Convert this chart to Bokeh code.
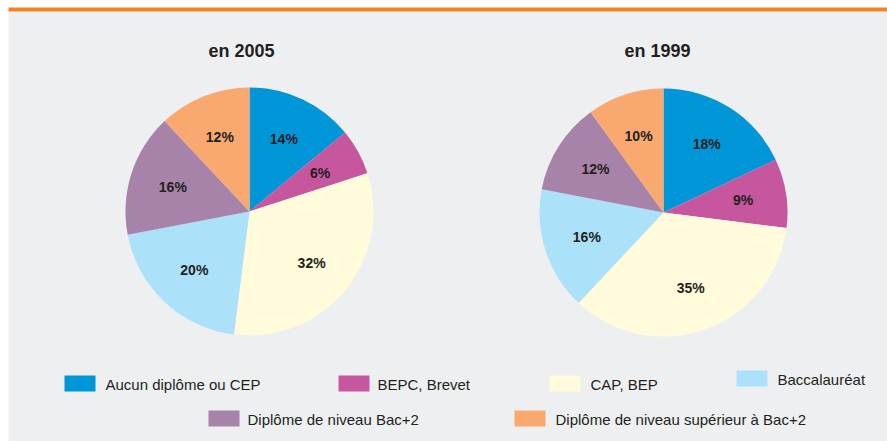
from math import pi, sin, cos
import numpy as np
from bokeh.plotting import figure
from bokeh.models import Range1d, ColumnDataSource
from bokeh.core.properties import value
from bokeh.embed import file_html
from bokeh.resources import INLINE

# ---- data ----
categories = ["Aucun diplôme ou CEP", "BEPC, Brevet", "CAP, BEP", "Baccalauréat",
              "Diplôme de niveau Bac+2", "Diplôme de niveau supérieur à Bac+2"]
colors = ["#0096d8", "#c6569e", "#fffbdb", "#abe1f9", "#a783aa", "#f9a86f"]
values_2005 = [14, 6, 32, 20, 16, 12]
values_1999 = [18, 9, 35, 16, 12, 10]
titles = ["en 2005", "en 1999"]

W, H = 887, 441
TXT = "#231f20"
FONT = "Liberation Sans"

p = figure(width=W, height=H, x_range=Range1d(0, W), y_range=Range1d(0, H),
           output_backend="svg", toolbar_location=None, min_border=0)
p.axis.visible = False
p.grid.visible = False
p.outline_line_color = None
p.background_fill_color = "white"
p.border_fill_color = "white"

def Y(py):
    return H - py

# background panel and orange rule
p.quad(left=[8], right=[W], top=[Y(11)], bottom=[Y(H)], fill_color="#edeff1", line_color=None)
p.quad(left=[8], right=[W], top=[Y(7)], bottom=[Y(11)], fill_color="#f5821f", line_color=None)

pies = [(values_2005, 249, 211, titles[0], 241), (values_1999, 663, 212, titles[1], 657)]
R = 124
for vals, cx, cy, title, tx in pies:
    v = np.array(vals, dtype=float)
    frac = v / v.sum()
    cum = np.concatenate([[0], np.cumsum(frac)])
    start = pi / 2 - 2 * pi * cum[:-1]
    end = pi / 2 - 2 * pi * cum[1:]
    src = ColumnDataSource(dict(x=[cx] * len(v), y=[Y(cy)] * len(v),
                                start=list(start), end=list(end), color=colors))
    p.wedge(x="x", y="y", radius=R, start_angle="end", end_angle="start",
            fill_color="color", line_color=None, source=src)
    mid = 2 * pi * (cum[:-1] + cum[1:]) / 2
    lx = [cx + 0.65 * R * sin(m) for m in mid]
    ly = [Y(cy) + 0.65 * R * cos(m) for m in mid]
    labels = [f"{int(x)}%" for x in vals]
    p.text(x=lx, y=ly, text=labels, text_align="center", text_baseline="middle",
           text_font=value(FONT), text_font_style="bold", text_font_size="14px",
           text_color=TXT)
    p.text(x=[tx], y=[Y(50)], text=[title], text_align="center", text_baseline="middle",
           text_font=value(FONT), text_font_style="bold", text_font_size="18px",
           text_color=TXT)

# legend (swatch left x, swatch top y, text left x)
legend_layout = [(64, 375, 105), (338, 375, 377), (549, 375, 590),
                 (736, 370, 777), (208, 410, 247), (514, 410, 555)]
sw_w, sw_h = 31, 16
for (sx, sy, txx), cat, col in zip(legend_layout, categories, colors):
    p.quad(left=[sx], right=[sx + sw_w], top=[Y(sy)], bottom=[Y(sy + sw_h)],
           fill_color=col, line_color=None)
    p.text(x=[txx], y=[Y(sy + sw_h / 2 + 0.5)], text=[cat], text_align="left",
           text_baseline="middle", text_font=value(FONT), text_font_size="15px",
           text_color=TXT)

open("out.html", "w").write(file_html(p, INLINE))
